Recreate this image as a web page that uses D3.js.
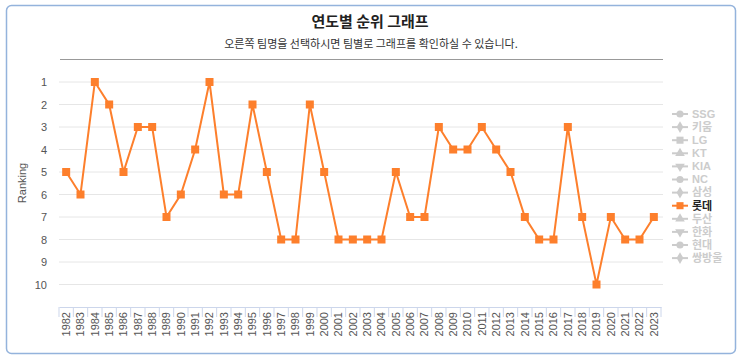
<!DOCTYPE html>
<html>
<head>
<meta charset="utf-8">
<script src="https://cdn.jsdelivr.net/npm/d3@7"></script>
<style>
  body { margin: 0; background: #fff; }
  svg { font-family: "Liberation Sans", "Noto Sans CJK KR", sans-serif; }
</style>
</head>
<body>
<svg id="chart" width="743" height="361"></svg>
<script>
// Data

var years = ["1982","1983","1984","1985","1986","1987","1988","1989","1990","1991","1992","1993","1994","1995","1996","1997","1998","1999","2000","2001","2002","2003","2004","2005","2006","2007","2008","2009","2010","2011","2012","2013","2014","2015","2016","2017","2018","2019","2020","2021","2022","2023"];
var lotteRanks = [5,6,1,2,5,3,3,7,6,4,1,6,6,2,5,8,8,2,5,8,8,8,8,5,7,7,3,4,4,3,4,5,7,8,8,3,7,10,7,8,8,7];
var rankTicks = [1,2,3,4,5,6,7,8,9,10];
var teams = ["SSG","키움","LG","KT","KIA","NC","삼성","롯데","두산","한화","현대","쌍방울"];
var activeTeam = "롯데";

var svg = d3.select("#chart");
var lineColor = "#fd7f2c";

// frame
svg.append("rect")
  .attr("x", 6.5).attr("y", 5.5).attr("width", 729).attr("height", 348)
  .attr("rx", 5).attr("fill", "#fff").attr("stroke", "#94b3dc").attr("stroke-width", 1.5);

svg.append("text").attr("x", 370).attr("y", 27).attr("text-anchor", "middle")
  .style("font-family", "'Noto Sans CJK KR', sans-serif")
  .style("font-size", "15px").style("font-weight", "bold").attr("fill", "#222")
  .text("연도별 순위 그래프");
svg.append("text").attr("x", 371).attr("y", 48).attr("text-anchor", "middle")
  .style("font-family", "'Noto Sans CJK KR', sans-serif")
  .style("font-size", "11px").attr("fill", "#333")
  .text("오른쪽 팀명을 선택하시면 팀별로 그래프를 확인하실 수 있습니다.");
svg.append("line").attr("x1", 60).attr("x2", 663).attr("y1", 59.5).attr("y2", 59.5)
  .attr("stroke", "#999").attr("stroke-width", 1.2);

// scales
var x = d3.scaleBand().domain(years).range([59, 661]);
var y = d3.scaleLinear().domain([0, 11]).range([59.5, 307]);

// grid
svg.append("g").selectAll("line").data(rankTicks).join("line")
  .attr("x1", 59).attr("x2", 663)
  .attr("y1", d => y(d)).attr("y2", d => y(d))
  .attr("stroke", "#e6e6e6").attr("stroke-width", 1);

// y axis
var yAxis = svg.append("g").attr("transform", "translate(47,0)")
  .call(d3.axisLeft(y).tickValues(rankTicks).tickSize(0).tickPadding(0));
yAxis.select(".domain").remove();
yAxis.selectAll("text").attr("fill", "#555").style("font-size", "11px").attr("dy", "0.35em");

svg.append("text").attr("transform", "translate(26,183) rotate(-90)")
  .attr("text-anchor", "middle").style("font-size", "11px").attr("fill", "#555")
  .text("Ranking");

// x axis
var xAxis = svg.append("g").attr("transform", "translate(0,307)")
  .call(d3.axisBottom(x).tickSize(0));
xAxis.select(".domain").attr("stroke", "#ccd6eb");
xAxis.selectAll("text")
  .attr("transform", "rotate(-90)")
  .attr("x", -5).attr("y", 0).attr("dy", "0.35em")
  .attr("text-anchor", "end").attr("fill", "#555").style("font-size", "11px");
xAxis.selectAll(".tick").append("line")
  .attr("x1", -x.bandwidth() / 2).attr("x2", -x.bandwidth() / 2)
  .attr("y1", 0).attr("y2", 10).attr("stroke", "#ccd6eb");
xAxis.append("line")
  .attr("x1", x.range()[1]).attr("x2", x.range()[1])
  .attr("y1", 0).attr("y2", 10).attr("stroke", "#ccd6eb");

// line
var cx = d => x(d) + x.bandwidth() / 2;
svg.append("path")
  .datum(years.map((yr, i) => [yr, lotteRanks[i]]))
  .attr("fill", "none").attr("stroke", lineColor).attr("stroke-width", 2)
  .attr("d", d3.line().x(d => cx(d[0])).y(d => y(d[1])));

svg.append("g").selectAll("rect").data(years).join("rect")
  .attr("x", (d) => cx(d) - 4).attr("y", (d, i) => y(lotteRanks[i]) - 4)
  .attr("width", 8).attr("height", 8).attr("fill", lineColor);

// legend
var symbols = [d3.symbolCircle, d3.symbolDiamond, d3.symbolSquare, d3.symbolTriangle, "down"];
var legend = svg.append("g").selectAll("g").data(teams).join("g")
  .attr("transform", (d, i) => "translate(680," + (114 + i * 13.1) + ")");
legend.append("line").attr("x1", -8).attr("x2", 8)
  .attr("stroke", d => d === activeTeam ? lineColor : "#ccc").attr("stroke-width", 2);
legend.append("path")
  .attr("d", (d, i) => {
    var s = symbols[i % 5];
    return d3.symbol().type(s === "down" ? d3.symbolTriangle : s).size(i % 5 === 2 ? 50 : 40)();
  })
  .attr("transform", (d, i) => i % 5 === 4 ? "rotate(180)" : null)
  .attr("fill", d => d === activeTeam ? lineColor : "#ccc");
legend.append("text").attr("x", 12).attr("dy", "0.35em")
  .style("font-size", "11px").style("font-weight", "bold")
  .attr("fill", d => d === activeTeam ? "#222" : "#ccc")
  .text(d => d);
</script>
</body>
</html>
